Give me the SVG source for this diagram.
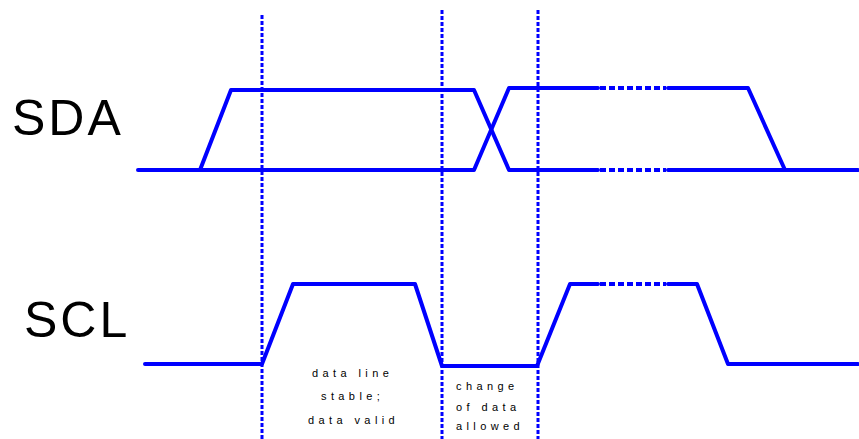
<svg xmlns="http://www.w3.org/2000/svg" width="859" height="439" viewBox="0 0 859 439">
<style>
.sig{fill:none;stroke:#0000ff;stroke-width:4;stroke-linejoin:round;stroke-linecap:round}
.dash{fill:none;stroke:#0000ff;stroke-width:4;stroke-dasharray:6 3}
.vl{fill:none;stroke:#0000ff;stroke-width:3;stroke-dasharray:4 2}
.big{font-family:"Liberation Sans",Arial,sans-serif;font-size:50px;fill:#000;letter-spacing:3px}
.small{font-family:"Liberation Sans",Arial,sans-serif;font-size:11px;fill:#000;letter-spacing:4.4px}
</style>
<rect width="859" height="439" fill="#fff"/>
<g id="labels">
<text class="big" x="12" y="135">SDA</text>
<text class="big" x="24" y="337">SCL</text>
</g>
<g id="connectors">
<path class="sig" d="M138,170 H200 L231,90 H474 L509,170 H598"/>
<path class="sig" d="M200,170 H474 L509,88 H598"/>
<path class="dash" d="M600,88 H666"/>
<path class="dash" d="M600,170 H666"/>
<path class="sig" d="M668,88 H748 L785,170"/>
<path class="sig" d="M668,170 H858"/>
<path class="sig" d="M145,364 H262 L293,284 H415 L442,366 H537 L570,284 H598"/>
<path class="dash" d="M600,284 H666"/>
<path class="sig" d="M668,284 H697 L728,364 H858"/>
<path class="vl" d="M262,15 V439"/>
<path class="vl" d="M442,10 V439"/>
<path class="vl" d="M538,10 V439"/>
</g>
<g id="notes">
<text class="small" x="312" y="377">data line</text>
<text class="small" x="321" y="400">stable;</text>
<text class="small" x="308" y="424">data valid</text>
<text class="small" x="456" y="390">change</text>
<text class="small" x="456" y="411">of data</text>
<text class="small" x="456" y="430">allowed</text>
</g>
</svg>
